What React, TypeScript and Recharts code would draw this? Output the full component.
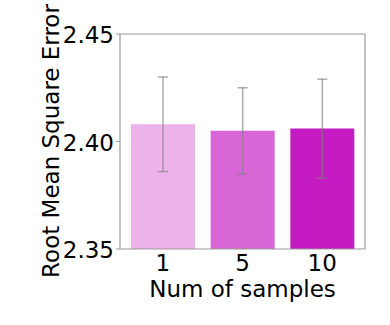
import { BarChart, Bar, XAxis, YAxis, Cell, ErrorBar } from 'recharts'

const categories = ['1', '5', '10']
const rmse = [2.408, 2.405, 2.406]
const rmseStd = [0.022, 0.02, 0.023]
const yTicks = [2.35, 2.4, 2.45]

const COLORS = ['#ebb3e9', '#d866d6', '#c41bc2']
const FONT = 'DejaVu Sans, sans-serif'
const SPINE = { stroke: '#999', strokeWidth: 1.2 }

const data = categories.map((c, i) => ({ name: c, value: rmse[i], err: rmseStd[i] }))

export default function App() {
  return (
    <div style={{ position: 'absolute', left: 0, top: 0 }}>
      <BarChart
        width={390}
        height={325}
        data={data}
        margin={{ top: 33, right: 24, left: 0, bottom: 0 }}
        barCategoryGap={8}
      >
        <XAxis
          dataKey="name"
          height={76}
          padding={{ left: 3, right: 3 }}
          axisLine={SPINE}
          tickLine={false}
          tick={{ fill: '#000', fontSize: 23, fontFamily: FONT }}
          tickMargin={0}
          label={() => (
            <text x={242.5} y={297} textAnchor="middle" fill="#000" fontSize={23} fontFamily={FONT}>
              Num of samples
            </text>
          )}
        />
        <XAxis xAxisId="top" orientation="top" dataKey="name" height={1} tick={false} tickLine={false}
          axisLine={SPINE} />
        <YAxis
          width={120}
          domain={[2.35, 2.45]}
          ticks={yTicks}
          allowDataOverflow
          tickFormatter={(v: number) => v.toFixed(2)}
          axisLine={SPINE}
          tickLine={{ stroke: '#999' }}
          tickSize={4}
          tickMargin={2}
          tick={{ fill: '#000', fontSize: 23, fontFamily: FONT, dy: 1 }}
          label={() => (
            <text
              x={59}
              y={141}
              transform="rotate(-90 59 141)"
              textAnchor="middle"
              fill="#000"
              fontSize={23}
              fontFamily={FONT}
            >
              Root Mean Square Error
            </text>
          )}
        />
        <YAxis yAxisId="right" orientation="right" width={1} domain={[2.35, 2.45]} tick={false}
          tickLine={false} axisLine={SPINE} />
        <Bar dataKey="value" isAnimationActive={false}>
          {data.map((d, i) => (
            <Cell key={d.name} fill={COLORS[i]} />
          ))}
          <ErrorBar dataKey="err" width={5} stroke="#808080" strokeOpacity={0.65} strokeWidth={1.5} />
        </Bar>
      </BarChart>
    </div>
  )
}
